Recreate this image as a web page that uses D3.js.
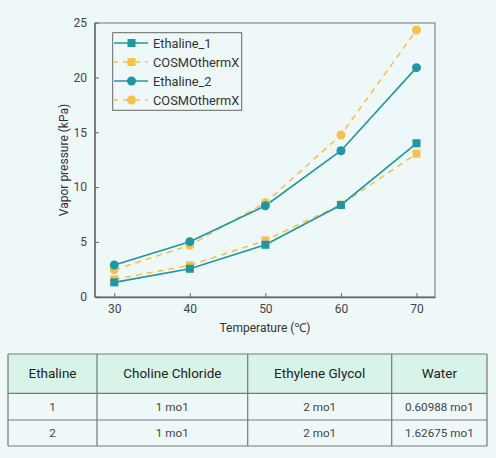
<!DOCTYPE html>
<html><head><meta charset="utf-8">
<script src="https://cdn.jsdelivr.net/npm/d3@7/dist/d3.min.js"></script>
<style>
html,body{margin:0;padding:0;background:#eef8f9;}
svg{display:block;font-family:Roboto,"Noto Sans",sans-serif;}
</style></head><body>
<svg id="c" width="496" height="458"></svg>
<script>
const temps = [30, 40, 50, 60, 70];
const ethaline1 = [1.31, 2.55, 4.74, 8.37, 14.0];
const cosmo1 = [1.59, 2.86, 5.14, 8.4, 13.05];
const ethaline2 = [2.89, 5.02, 8.3, 13.32, 20.9];
const cosmo2 = [2.46, 4.69, 8.58, 14.75, 24.33];
const xTicks = [30, 40, 50, 60, 70];
const yTicks = [0, 5, 10, 15, 20, 25];
const seriesNames = ["Ethaline_1", "COSMOthermX", "Ethaline_2", "COSMOthermX"];
const tableHeader = ["Ethaline", "Choline Chloride", "Ethylene Glycol", "Water"];
const tableRows = [["1", "1 mo1", "2 mo1", "0.60988 mo1"], ["2", "1 mo1", "2 mo1", "1.62675 mo1"]];

const TEAL = "#1f97a2", YEL = "#f8c14c";
const svg = d3.select("#c");
const L = 95, R = 435, T = 23, B = 297;
const x = d3.scaleLinear().domain([27.45, 72.45]).range([L, R]);
const y = d3.scaleLinear().domain([0, 25]).range([296.7, 22.7]);

// frame
svg.append("rect").attr("x", L).attr("y", T).attr("width", R - L).attr("height", B - T)
  .attr("fill", "none").attr("stroke", "#888").attr("stroke-width", 1.2);

const xa = svg.append("g").attr("transform", `translate(0,${B})`)
  .call(d3.axisBottom(x).tickValues(xTicks).tickSizeInner(-4).tickSizeOuter(0).tickPadding(7));
const ya = svg.append("g").attr("transform", `translate(${L},0)`)
  .call(d3.axisLeft(y).tickValues(yTicks).tickSizeInner(-4).tickSizeOuter(0).tickPadding(8));
[xa, ya].forEach(a => {
  a.select(".domain").attr("stroke", "#666").attr("stroke-width", 1.4);
  a.selectAll(".tick line").attr("stroke", "#666");
  a.selectAll(".tick text").attr("fill", "#444").attr("font-size", 12).attr("font-family", "Roboto,sans-serif");
});
ya.select(".domain").attr("d", `M0,${B}V${T}`);

svg.append("text").attr("x", 265).attr("y", 332).attr("text-anchor", "middle")
  .attr("font-size", 12).attr("fill", "#333").text("Temperature (℃)");
svg.append("text").attr("transform", `translate(68,160) rotate(-90)`).attr("text-anchor", "middle")
  .attr("font-size", 12).attr("fill", "#333").text("Vapor pressure (kPa)");

const series = [
  {vals: ethaline1, color: TEAL, dash: null, shape: "square"},
  {vals: cosmo1, color: YEL, dash: "6,5", shape: "square"},
  {vals: ethaline2, color: TEAL, dash: null, shape: "circle"},
  {vals: cosmo2, color: YEL, dash: "6,5", shape: "circle"}
];
const line = d3.line().x((d, i) => x(temps[i])).y(d => y(d));
function marker(g, shape, cx, cy, color) {
  if (shape === "square") g.append("rect").attr("x", cx - 4).attr("y", cy - 4).attr("width", 8).attr("height", 8).attr("fill", color);
  else g.append("circle").attr("cx", cx).attr("cy", cy).attr("r", 4.5).attr("fill", color);
}
const order = [1, 0, 3, 2];
order.forEach(k => {
  const s = series[k];
  svg.append("path").attr("d", line(s.vals)).attr("fill", "none").attr("stroke", s.color)
    .attr("stroke-width", 1.6).attr("stroke-dasharray", s.dash);
});
order.forEach(k => {
  const s = series[k];
  const g = svg.append("g");
  s.vals.forEach((v, i) => marker(g, s.shape, x(temps[i]), y(v), s.color));
});

// legend
const lg = svg.append("g");
lg.append("rect").attr("x", 112.7).attr("y", 32.7).attr("width", 129).attr("height", 77.6)
  .attr("fill", "#eef8f9").attr("stroke", "#666").attr("stroke-width", 1);
series.forEach((s, i) => {
  const cy = 43 + i * 19;
  lg.append("line").attr("x1", 114).attr("x2", 148).attr("y1", cy).attr("y2", cy)
    .attr("stroke", s.color).attr("stroke-width", 1.6).attr("stroke-dasharray", s.dash ? "6,5" : null)
    .attr("stroke-dashoffset", s.dash ? 2 : 0);
  marker(lg, s.shape, 131.5, cy, s.color);
  lg.append("text").attr("x", 153).attr("y", cy + 4.5).attr("font-size", 12.8).attr("fill", "#333").text(seriesNames[i]);
});

// table
const cols = [8, 97, 247.7, 391.7, 487];
const rowsY = [354, 393.3, 420, 446];
const tg = svg.append("g");
tg.append("rect").attr("x", cols[0]).attr("y", rowsY[0]).attr("width", cols[4] - cols[0]).attr("height", rowsY[1] - rowsY[0]).attr("fill", "#d8f4e9");
const allRows = [tableHeader].concat(tableRows);
allRows.forEach((r, ri) => {
  r.forEach((c, ci) => {
    tg.append("text").attr("x", (cols[ci] + cols[ci + 1]) / 2).attr("y", (rowsY[ri] + rowsY[ri + 1]) / 2 + (ri === 0 ? 4.8 : 4))
      .attr("text-anchor", "middle").attr("font-size", ri === 0 ? 13.5 : 11.7)
      .attr("fill", ri === 0 ? "#222" : "#444").text(c);
  });
});
rowsY.forEach(yy => tg.append("line").attr("x1", cols[0]).attr("x2", cols[4]).attr("y1", yy).attr("y2", yy).attr("stroke", "#777").attr("stroke-width", 1.2));
cols.forEach(xx => tg.append("line").attr("x1", xx).attr("x2", xx).attr("y1", rowsY[0]).attr("y2", rowsY[3]).attr("stroke", "#777").attr("stroke-width", 1.2));
</script>
</body></html>
